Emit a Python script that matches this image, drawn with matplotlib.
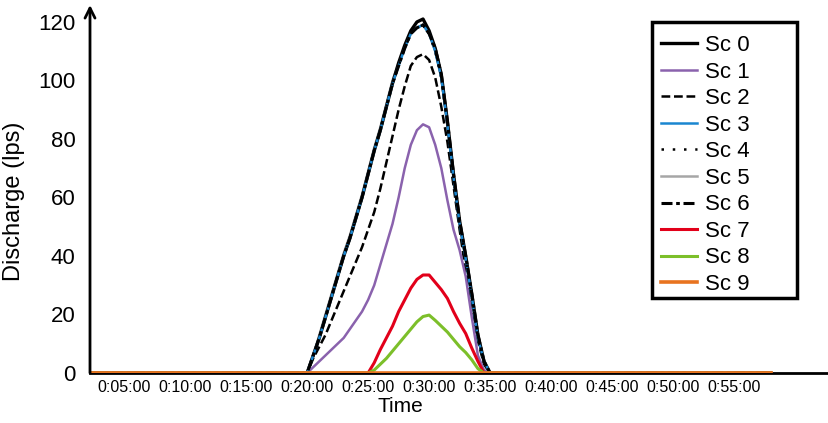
import numpy as np
import matplotlib
matplotlib.use("Agg")
import matplotlib.pyplot as plt
from matplotlib.patches import Rectangle

plt.rcParams['font.family'] = ['Liberation Sans', 'DejaVu Sans']

# time axis in minutes
t_before = [2.2, 5, 10, 15]
t_event = [20, 20.5, 21, 21.5, 22, 22.5, 23, 23.5, 24, 24.5, 25, 25.5, 26, 26.5, 27, 27.5,
           28, 28.5, 29, 29.5, 30, 30.5, 31, 31.5, 32, 32.5, 33, 33.5, 34, 34.5, 35]
t_after = [40, 45, 50, 55, 58]

# discharge (lps) during the event window
sc0 = [0, 6, 12, 19, 26, 33, 40, 46, 53, 60, 68, 76, 83, 91, 99, 106,
       112, 117, 120, 121, 117, 111, 102, 86, 68, 52, 40, 27, 13, 4, 0]
sc1 = [0, 2, 4, 6, 8, 10, 12, 15, 18, 21, 25, 30, 37, 44, 51, 60,
       70, 78, 83, 85, 84, 78, 70, 59, 49, 42, 33, 19, 6, 1, 0]
sc2 = [0, 5, 9, 13, 18, 23, 28, 33, 38, 43, 49, 55, 63, 72, 81, 90,
       98, 105, 108, 109, 107, 101, 91, 79, 64, 49, 35, 24, 11, 3, 0]
sc3 = [0, 6, 12, 19, 26, 33, 40, 46, 53, 60, 68, 76, 83, 91, 99, 105,
       111, 116, 118, 119, 116, 110, 101, 85, 67, 51, 39, 26, 12, 4, 0]
sc4 = [0, 6, 12, 19, 26, 33, 40, 46, 53, 60, 68, 76, 83, 91, 99, 105,
       111, 116, 118, 119, 116, 110, 101, 85, 67, 51, 39, 26, 12, 4, 0]
sc5 = [0, 6, 13, 20, 27, 34, 41, 47, 54, 61, 69, 77, 84, 92, 100, 106,
       111, 116, 118, 119, 116, 110, 101, 85, 67, 51, 39, 26, 12, 4, 0]
sc6 = [0, 6, 12, 19, 26, 33, 40, 46, 53, 60, 68, 76, 83, 91, 99, 105,
       111, 116, 118, 119, 116, 111, 102, 86, 68, 52, 40, 27, 13, 4, 0]
sc7 = [0, 0, 0, 0, 0, 0, 0, 0, 0, 0, 0, 3.5, 8, 12, 16, 21,
       25, 29, 32, 33.5, 33.5, 31, 28.5, 25.5, 21, 17, 13.5, 8.5, 4, 0, 0]
sc8 = [0, 0, 0, 0, 0, 0, 0, 0, 0, 0, 0, 1, 3, 5, 7.5, 10,
       12.5, 15, 17.5, 19.3, 19.8, 18, 16, 14, 11.5, 9, 7, 4.5, 1.5, 0, 0]
sc9 = [0] * 31

names = ['Sc 0', 'Sc 1', 'Sc 2', 'Sc 3', 'Sc 4', 'Sc 5', 'Sc 6', 'Sc 7', 'Sc 8', 'Sc 9']
tick_min = [5, 10, 15, 20, 25, 30, 35, 40, 45, 50, 55]
tick_lab = ['0:%02d:00' % m for m in tick_min]

styles = [
    dict(color='black', lw=2.4, ls='-'),
    dict(color='#8a62ad', lw=1.8, ls='-'),
    dict(color='black', lw=1.8, ls=(0, (3.5, 1.5))),
    dict(color='#1a86d0', lw=1.8, ls='-'),
    dict(color='black', lw=1.8, ls=(0, (1, 3.5))),
    dict(color='#a6a6a6', lw=1.8, ls='-'),
    dict(color='black', lw=2.2, ls=(0, (3.6, 1.2, 1.2, 1.2))),
    dict(color='#e2001a', lw=2.2, ls='-'),
    dict(color='#7cbf2a', lw=2.2, ls='-'),
    dict(color='#e8731f', lw=2.6, ls='-'),
]

times = np.concatenate([t_before, t_event, t_after])
pad0 = np.zeros(len(t_before))
pad1 = np.zeros(len(t_after))

W, H = 829, 423
fig = plt.figure(figsize=(W / 100, H / 100), dpi=100)
ax = fig.add_axes([90 / W, 50 / H, 738 / W, 368 / H])

all_sc = [sc0, sc1, sc2, sc3, sc4, sc5, sc6, sc7, sc8, sc9]
order = [5, 0, 2, 1, 3, 4, 6, 7, 8, 9]
handles = {}
for i in order:
    y = np.concatenate([pad0, all_sc[i], pad1])
    ln, = ax.plot(times, y, label=names[i], **styles[i])
    handles[i] = ln

ax.set_xlim(2.2, 62.7)
ax.set_ylim(0, 125.8)
ax.set_yticks([0, 20, 40, 60, 80, 100, 120])
ax.set_xticks(tick_min)
ax.set_xticklabels(tick_lab, fontsize=11.5)
ax.tick_params(axis='y', length=0, labelsize=16, pad=10.5)
ax.tick_params(axis='x', length=0, pad=5)

for s in ['top', 'right', 'left']:
    ax.spines[s].set_visible(False)
ax.spines['bottom'].set_linewidth(2)
ax.spines['bottom'].set_zorder(0)

# y axis drawn as an arrow
ax.annotate('', xy=(0, 1.0), xytext=(0, 0), xycoords='axes fraction',
            arrowprops=dict(arrowstyle='->', lw=2, color='black',
                            mutation_scale=18, shrinkA=0, shrinkB=0))

ax.set_xlabel('Time', fontsize=15)
ax.xaxis.set_label_coords((400 - 90) / 738, -24 / 368)
ax.set_ylabel('Discharge (lps)', fontsize=17)
ax.yaxis.set_label_coords(-65 / 738, (373 - 201) / 368)

# legend box is wider than its entries, so the frame is drawn separately
fig.patches.append(Rectangle((652 / W, 1 - 298 / H), 145 / W, 276 / H,
                             transform=fig.transFigure, fill=False,
                             edgecolor='black', lw=2.5))
leg = fig.legend([handles[i] for i in range(10)], names, loc='upper left',
                 bbox_to_anchor=(661 / W, 1 - 35 / H), fontsize=16, frameon=False,
                 handlelength=1.6, handletextpad=0.4, labelspacing=0.25,
                 borderpad=0, borderaxespad=0)

plt.savefig('out.png', dpi=100)
